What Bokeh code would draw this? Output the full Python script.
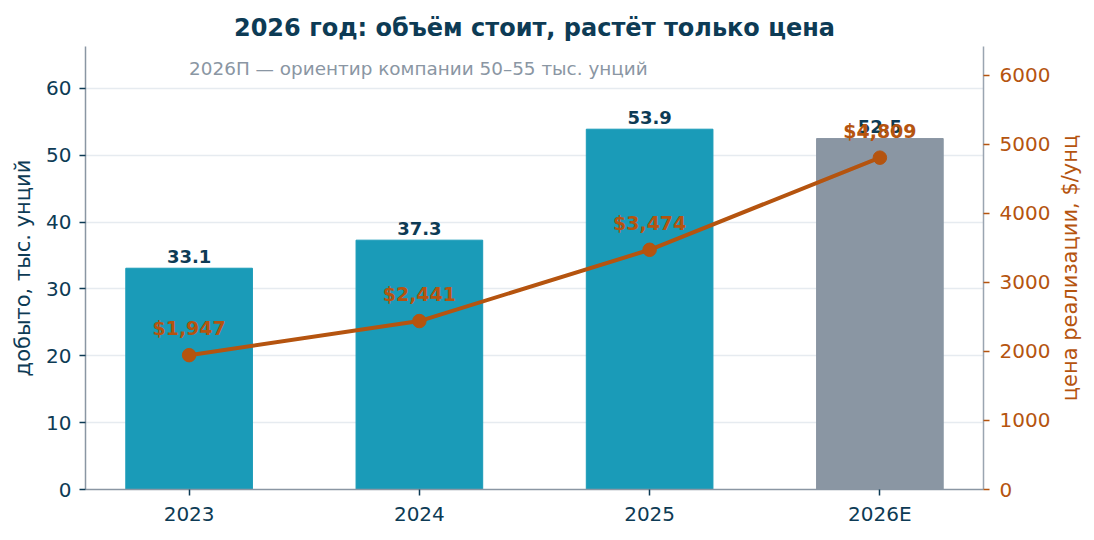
from bokeh.plotting import figure
from bokeh.models import Range1d, LinearAxis, FixedTicker, ColumnDataSource, Div
from bokeh.layouts import row
from bokeh.core.properties import value
from bokeh.embed import file_html
from bokeh.resources import INLINE

categories = ["2023", "2024", "2025", "2026E"]
volume = [33.1, 37.3, 53.9, 52.5]
price = [1947, 2441, 3474, 4809]
volume_labels = ["33.1", "37.3", "53.9", "52.5"]
price_labels = ["$1,947", "$2,441", "$3,474", "$4,809"]
bar_colors = ["#1a9bb8", "#1a9bb8", "#1a9bb8", "#8a96a3"]
left_ticks = [0, 10, 20, 30, 40, 50, 60]
right_ticks = [0, 1000, 2000, 3000, 4000, 5000, 6000]

NAVY = "#0d3b55"
ORANGE = "#b5540f"
GRAY = "#8a96a3"
FONT = "DejaVu Sans"

xs = list(range(len(categories)))
src = ColumnDataSource(dict(x=xs, vol=volume, price=price, vl=volume_labels,
                            pl=price_labels, color=bar_colors))

p = figure(width=1060, height=528, output_backend="svg", toolbar_location=None,
           x_range=Range1d(-0.45, 3.45), y_range=Range1d(0, 66.27),
           min_border_left=85, min_border_right=77, min_border_top=46, min_border_bottom=38,
           title="2026 год: объём стоит, растёт только цена")
p.outline_line_color = None
p.title.align = "center"
p.title.text_font = FONT
p.title.text_font_size = "24px"
p.title.text_color = NAVY
p.title.text_font_style = "bold"

p.extra_y_ranges = {"price": Range1d(0, 6420)}

# grid
p.xgrid.grid_line_color = None
p.ygrid.grid_line_color = "#e6ebf0"
p.ygrid.grid_line_width = 1.5
p.ygrid.ticker = FixedTicker(ticks=left_ticks)

# bars
p.vbar(x="x", top="vol", width=0.55, color="color", source=src)
p.text(x="x", y="vol", text="vl", source=src, text_align="center", text_baseline="alphabetic",
       y_offset=-12, text_font=value(FONT), text_font_size="18px", text_font_style="bold",
       text_color=NAVY)

# price line
p.line(x="x", y="price", source=src, y_range_name="price", line_color=ORANGE, line_width=4)
p.scatter(x="x", y="price", source=src, y_range_name="price", size=13.5, color=ORANGE)
p.text(x="x", y="price", text="pl", source=src, y_range_name="price", text_align="center",
       text_baseline="alphabetic", y_offset=-27, text_font=value(FONT), text_font_size="19px",
       text_font_style="bold", text_color=ORANGE)

# subtitle
p.text(x=[0], y=[63.0], text=["2026П — ориентир компании 50–55 тыс. унций"], text_align="left",
       text_baseline="middle", text_font=value(FONT), text_font_size="18.4px", text_color=GRAY)

# axes
xa = p.xaxis[0]
xa.ticker = FixedTicker(ticks=xs)
xa.major_label_overrides = {i: c for i, c in enumerate(categories)}
ya = p.yaxis[0]
ya.ticker = FixedTicker(ticks=left_ticks)
ya.axis_label = "добыто, тыс. унций"

for ax in (xa, ya):
    ax.axis_line_color = GRAY
    ax.axis_line_width = 1.5
    ax.major_tick_line_color = NAVY
    ax.major_tick_line_width = 1.5
    ax.major_tick_out = 6
    ax.major_tick_in = 0
    ax.minor_tick_line_color = None
    ax.major_label_text_font = FONT
    ax.major_label_text_font_size = "20px"
    ax.major_label_text_color = NAVY
    ax.axis_label_text_font = FONT
    ax.axis_label_text_font_size = "21px"
    ax.axis_label_text_font_style = "normal"
    ax.axis_label_text_color = NAVY
xa.major_label_standoff = 6
ya.major_label_standoff = 8
ya.axis_label_standoff = 8

ra = LinearAxis(y_range_name="price", ticker=FixedTicker(ticks=right_ticks))
ra.axis_line_color = "#9aa5b1"
ra.axis_line_width = 1.5
ra.major_tick_line_color = ORANGE
ra.major_tick_line_width = 1.5
ra.major_tick_out = 6
ra.major_tick_in = 0
ra.major_label_standoff = 10
ra.minor_tick_line_color = None
ra.major_label_text_font = FONT
ra.major_label_text_font_size = "20px"
ra.major_label_text_color = ORANGE
p.add_layout(ra, "right")

# right axis title, reading bottom-to-top as in the reference
right_title = Div(
    text=("<div style=\"position:absolute; left:10px; top:268px; "
          "transform:translate(-50%,-50%) rotate(-90deg); white-space:nowrap; "
          f"font-family:'DejaVu Sans'; font-size:21px; color:{ORANGE};\">"
          "цена реализации, $/унц</div>"),
    width=26, height=528, margin=0, styles={"position": "relative"})

layout = row(p, right_title, spacing=0)

open("out.html", "w").write(file_html(layout, INLINE))
